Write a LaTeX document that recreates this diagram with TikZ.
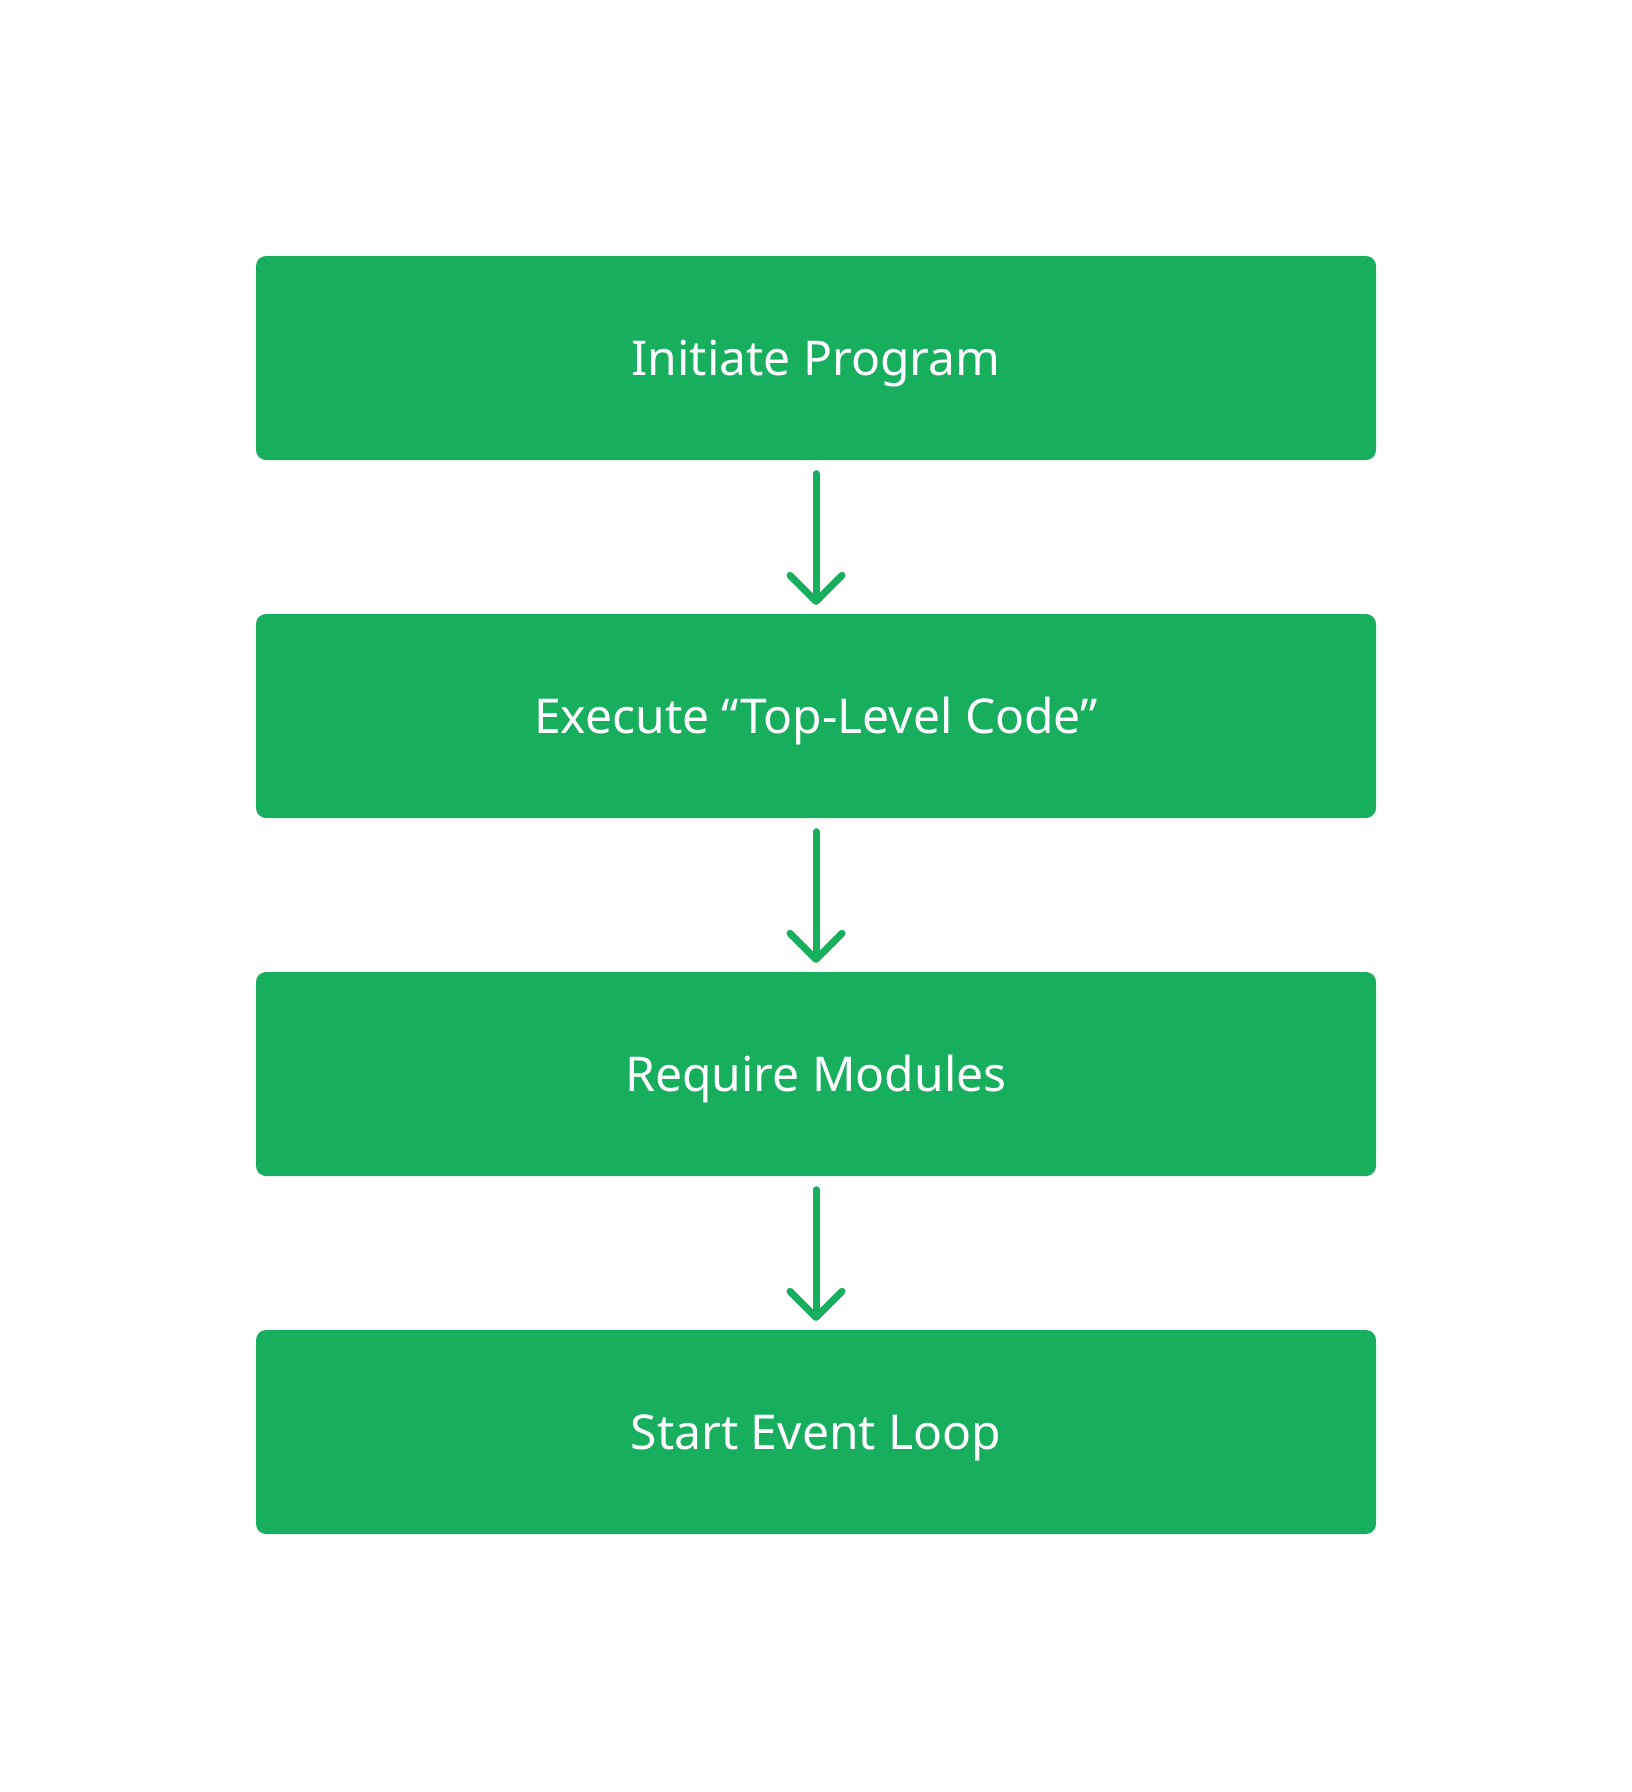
\documentclass[tikz,border=0pt]{standalone}
\usepackage{fontspec}
\setmainfont{Noto Sans}
\usetikzlibrary{arrows.meta}
\definecolor{boxgreen}{HTML}{17AE5E}
\tikzset{
  stepbox/.style={fill=boxgreen, draw=none, rounded corners=10pt,
    minimum width=1120pt, minimum height=204pt, inner sep=0pt,
    text=white, font=\fontsize{48}{58}\selectfont,
    text height=34.5pt, text depth=0pt},
  flow/.style={draw=boxgreen, line width=7pt, line cap=round, line join=round,
    -{Straight Barb[length=26pt, width=52pt, line cap=round, line join=round]}},
}
\begin{document}
\begin{tikzpicture}[x=1pt,y=-1pt]
\useasboundingbox (0,0) rectangle (1632,1792);
\node[stepbox] (a) at (816,358) {Initiate Program};
\node[stepbox] (b) at (816,716) {Execute “Top-Level Code”};
\node[stepbox] (c) at (816,1074) {Require Modules};
\node[stepbox] (d) at (816,1432) {Start Event Loop};
\draw[flow] ([yshift=-13.5pt]a.south) -- ([yshift=9pt]b.north);
\draw[flow] ([yshift=-13.5pt]b.south) -- ([yshift=9pt]c.north);
\draw[flow] ([yshift=-13.5pt]c.south) -- ([yshift=9pt]d.north);
\end{tikzpicture}
\end{document}
